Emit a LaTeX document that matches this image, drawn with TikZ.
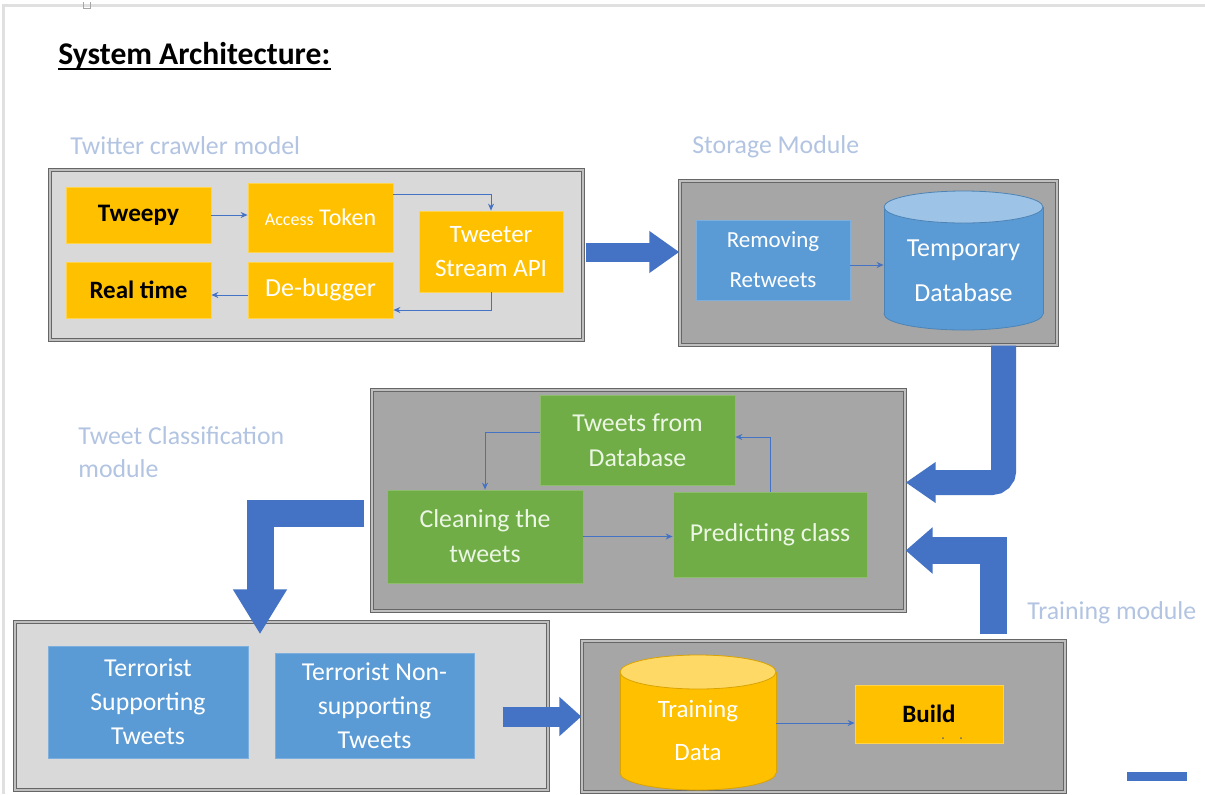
\documentclass[tikz,border=0pt]{standalone}
\usepackage{fontspec}
\setmainfont{Carlito}
\usetikzlibrary{arrows.meta}

\definecolor{orng}{RGB}{255,192,0}
\definecolor{orngtop}{RGB}{255,217,102}
\definecolor{blu}{RGB}{91,155,213}
\definecolor{blutop}{RGB}{157,195,230}
\definecolor{grn}{RGB}{112,173,71}
\definecolor{grntext}{RGB}{236,246,228}
\definecolor{arrowblue}{RGB}{68,114,196}
\definecolor{lightframe}{RGB}{217,217,217}
\definecolor{darkframe}{RGB}{166,166,166}
\definecolor{captionblue}{RGB}{178,196,226}

\tikzset{
	module/.style={draw=black!60, double=black!25, double distance=0.9pt, line width=0.7pt, inner sep=0pt},
	obox/.style={fill=orng, draw=orng!70!white, line width=0.4pt, inner sep=0pt, align=center, font=\fontsize{12.5}{17}\selectfont},
	bbox/.style={fill=blu, draw=blu!80!white, line width=0.4pt, text=white, inner sep=0pt, align=center, font=\fontsize{12.9}{17}\selectfont},
	gbox/.style={fill=grn, draw=grn!80!white, line width=0.4pt, text=grntext, inner sep=0pt, align=center, font=\fontsize{12.9}{17.5}\selectfont},
	caption/.style={text=captionblue, inner sep=0pt, align=left, font=\fontsize{12.9}{16.5}\selectfont},
	link/.style={arrowblue, line width=0.5pt, -{Stealth[length=3.5pt,width=3pt]}}
}

% drum: centre x, top y, bottom y, x radius, y radius, body colour, lid colour
\newcommand{\drum}[7]{%
	\draw[#6!85!black, line width=0.4pt, fill=#6] (#1,#3) ellipse [x radius=#4, y radius=#5];
	\fill[#6] (#1-#4,#2) rectangle (#1+#4,#3);
	\draw[#6!85!black, line width=0.4pt] (#1-#4,#2) -- (#1-#4,#3) (#1+#4,#2) -- (#1+#4,#3);
	\draw[#6!85!black, line width=0.4pt, fill=#7] (#1,#2) ellipse [x radius=#4, y radius=#5];
}

\begin{document}
\begin{tikzpicture}[x=0.5pt,y=-0.5pt]
	\useasboundingbox (0,0) rectangle (1205,794);
	\fill[white] (0,0) rectangle (1205,794);
	% page edge
	\draw[black!12, line width=1.5pt] (3,794) -- (3,5) -- (1205,5);
	\draw[black!35, line width=0.4pt] (83,2) -- (83,8) -- (90,8) -- (90,2);

	% heading
	\node[anchor=base west, inner sep=0pt, font=\fontsize{15.8}{18}\selectfont\bfseries] (title) at (58,64) {System Architecture:};
	\draw[line width=1pt] ([yshift=-2.3pt]title.base west) -- ([yshift=-2.3pt]title.base east);

	% module captions
	\node[caption, anchor=west] (capcrawler) at (70,146) {Twitter crawler model};
	\node[caption, anchor=west] (capstorage) at (692,147) {Storage Module};
	\node[caption, anchor=west] (capclass) at (78,452) {Tweet Classification\\module};
	\node[caption, anchor=west] (captrain) at (1027,613) {Training module};

	% module frames
	\node[module, fill=lightframe, minimum width=266.5pt, minimum height=85pt] (crawler) at (316.5,255) {};
	\node[module, fill=darkframe, minimum width=188.5pt, minimum height=82pt] (storage) at (868.5,263) {};
	\node[module, fill=darkframe, minimum width=266.5pt, minimum height=110.5pt] (classif) at (638.5,500.5) {};
	\node[module, fill=lightframe, minimum width=266.5pt, minimum height=84pt] (result) at (281.5,706) {};
	\node[module, fill=darkframe, minimum width=241.5pt, minimum height=75.5pt] (training) at (823.5,716.5) {};

	% crawler
	\node[obox, font=\fontsize{12.6}{17}\selectfont\bfseries, minimum width=72.5pt, minimum height=28pt] (tweepy) at (138.5,215) {Tweepy};
	\node[obox, text=white, minimum width=72.5pt, minimum height=34.5pt] (access) at (320.5,217.5) {{\fontsize{9}{12}\selectfont Access} {\fontsize{12}{12}\selectfont Token}};
	\node[obox, text=white, minimum width=72pt, minimum height=40.5pt] (stream) at (491,251.5) {Tweeter\\Stream API};
	\node[obox, font=\fontsize{12.5}{17}\selectfont\bfseries, minimum width=72.5pt, minimum height=28pt] (realtime) at (138.5,290) {Real time};
	\node[obox, text=white, font=\fontsize{13}{17}\selectfont, minimum width=72.5pt, minimum height=28pt] (debugger) at (320.5,290) {De-bugger};
	\draw[link] (tweepy.east) -- (tweepy.east -| access.west);
	\draw[link] ([yshift=11.5pt]access.east) -| (stream.north);
	\draw[link] (stream.south) |- ([yshift=-10pt]debugger.east);
	\draw[link] ([yshift=-2.5pt]debugger.west) -- ([yshift=-2.5pt]realtime.east);

	% storage
	\node[bbox, font=\fontsize{11.5}{20}\selectfont, minimum width=77pt, minimum height=40pt] (removing) at (773,260) {Removing\\Retweets};
	\drum{963.5}{207}{314}{79.5}{16}{blu}{blutop}
	\node[text=white, inner sep=0pt, align=center, font=\fontsize{13}{22.5}\selectfont, minimum width=79.5pt] (tempdb) at (963.5,271) {Temporary\\Database};
	\draw[link] ([yshift=-2.5pt]removing.east) -- ([yshift=-2.5pt]removing.east -| tempdb.west);

	% classification
	\node[gbox, minimum width=97.5pt, minimum height=45pt] (dbtweets) at (637.5,440) {Tweets from\\Database};
	\node[gbox, minimum width=98pt, minimum height=46.5pt] (cleaning) at (485,536.5) {Cleaning the\\tweets};
	\node[gbox, minimum width=97pt, minimum height=42.5pt] (predicting) at (770,534.5) {Predicting class};
	\draw[link] ([yshift=4pt]dbtweets.west) -| (cleaning.north);
	\draw[link] (cleaning.east) -- (cleaning.east -| predicting.west);
	\draw[link] (predicting.north) |- ([yshift=1.5pt]dbtweets.east);

	% results
	\node[bbox, minimum width=100pt, minimum height=56pt] (supporting) at (148,702) {Terrorist\\Supporting\\Tweets};
	\node[bbox, minimum width=99.5pt, minimum height=52.5pt] (nonsupporting) at (374.5,705.5) {Terrorist Non-\\supporting\\Tweets};

	% training
	\drum{698}{672}{773}{78}{17}{orng}{orngtop}
	\node[text=white, inner sep=0pt, align=center, font=\fontsize{12.5}{21.5}\selectfont, minimum width=78pt] (tdata) at (698,730) {Training\\Data};
	\node[obox, font=\fontsize{12.5}{17}\selectfont\bfseries, minimum width=74pt, minimum height=29pt] (build) at (929,714) {Build};
	\fill[black!60] (943,738) circle (1) (961,738) circle (1);
	\draw[link] ([yshift=-4.5pt]build.west -| tdata.east) -- ([yshift=-4.5pt]build.west);

	% flow between modules
	\coordinate (rx) at ([xshift=-23pt]result.east);
	\draw[arrowblue, line width=9.5pt, -{Triangle[length=15pt,width=20pt]}] ([xshift=1pt,yshift=1.5pt]crawler.east) -- ([yshift=1.5pt]crawler.east -| storage.west);
	\draw[arrowblue, line width=12.5pt, rounded corners=6pt, -{Triangle[length=15pt,width=19.5pt]}] ([xshift=-27pt]storage.south east) |- ([yshift=9pt]classif.east);
	\draw[arrowblue, line width=13.5pt, -{Triangle[length=13.5pt,width=22.5pt]}] ([xshift=-36pt,yshift=3pt]training.north east) |- ([yshift=-25pt]classif.east);
	\draw[arrowblue, line width=13.5pt, -{Triangle[length=22.5pt,width=25.5pt]}] ([xshift=-3.5pt,yshift=-6.5pt]classif.west) -| ([xshift=-10.75pt,yshift=-6.5pt]result.north);
	\draw[arrowblue, line width=10pt, -{Triangle[length=11pt,width=19pt]}] (rx |- training.west) -- (training.west);
	\fill[arrowblue] (1127,772) rectangle (1187,781);
\end{tikzpicture}
\end{document}
